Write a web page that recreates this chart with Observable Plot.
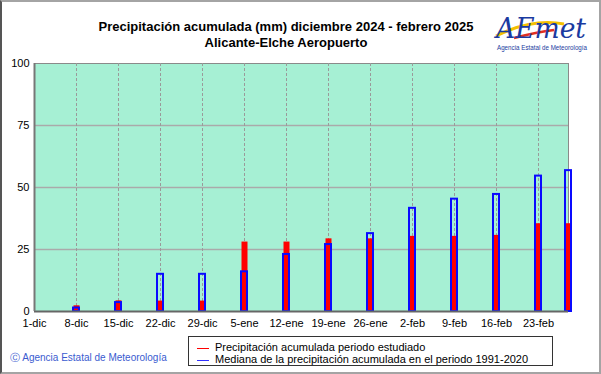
<!DOCTYPE html>
<html>
<head>
<meta charset="utf-8">
<script src="https://cdn.jsdelivr.net/npm/d3@7"></script>
<script src="https://cdn.jsdelivr.net/npm/@observablehq/plot@0.6"></script>
<style>
  body { margin: 0; background: #fff; }
  #wrap { position: relative; width: 601px; height: 374px; overflow: hidden; font-family: "Liberation Sans", Arial, sans-serif; background: #fff; }
  #frame { position: absolute; left: 0; top: 0; width: 597px; height: 370px; border: 2px solid #a4a4a4; border-left: 2px solid #555; pointer-events: none; }
  #title { position: absolute; left: 0; width: 572px; top: 19px; text-align: center; font-weight: bold; font-size: 13px; line-height: 16px; color: #000; }
  #legend { position: absolute; left: 188px; top: 336px; width: 365px; height: 30px; border: 1px solid #333; box-sizing: border-box; font-size: 11px; line-height: 12px; }
  .li { position: absolute; left: 8px; white-space: nowrap; }
  .sw { display: inline-block; width: 12px; height: 0; border-top: 1px solid; vertical-align: middle; margin-right: 6px; }
  #copy { position: absolute; left: 10px; top: 351px; font-size: 10px; color: #3a5bd0; white-space: nowrap; }
  #logo { position: absolute; left: 492px; top: 6px; width: 100px; height: 48px; }
</style>
</head>
<body>
<div id="wrap">
  <div id="chart"></div>
  <div id="title">Precipitación acumulada (mm) diciembre 2024 - febrero 2025<br>Alicante-Elche Aeropuerto</div>
  <svg id="logo" viewBox="0 0 100 48">
    <path d="M4 30 Q 40 12 72 18" stroke="#f5c000" stroke-width="3" fill="none"/>
    <path d="M22 32 Q 45 26 62 24" stroke="#e03020" stroke-width="2.5" fill="none"/>
    <text x="4" y="32" font-family="DejaVu Serif, serif" font-style="italic" font-size="28" textLength="90" lengthAdjust="spacingAndGlyphs" fill="#1a3aa0">AEmet</text>
    <text x="50" y="44" text-anchor="middle" font-size="6.5" textLength="90" lengthAdjust="spacingAndGlyphs" fill="#1a3aa0" font-family="Liberation Sans, Arial">Agencia Estatal de Meteorología</text>
  </svg>
  <div id="legend">
    <div class="li" style="top:4px"><span class="sw" style="border-color:#ff0000"></span>Precipitación acumulada periodo estudiado</div>
    <div class="li" style="top:16px"><span class="sw" style="border-color:#3030ff"></span>Mediana de la precipitación acumulada en el periodo 1991-2020</div>
  </div>
  <div id="copy">Ⓒ Agencia Estatal de Meteorología</div>
  <div id="frame"></div>
</div>
<script>
// Day index counted from 1 December 2024
const tickDays   = [0, 7, 14, 21, 28, 35, 42, 49, 56, 63, 70, 77, 84];
const tickLabels = ["1-dic", "8-dic", "15-dic", "22-dic", "29-dic", "5-ene", "12-ene", "19-ene", "26-ene", "2-feb", "9-feb", "16-feb", "23-feb"];
const barDays    = [7, 14, 21, 28, 35, 42, 49, 56, 63, 70, 77, 84, 89];
const observed   = [2.3, 4.3, 4.2, 4.2, 28.0, 28.0, 29.3, 29.3, 30.3, 30.3, 30.7, 35.4, 35.4];
const median     = [1.4, 3.6, 15.0, 15.0, 16.0, 23.0, 27.0, 31.4, 41.6, 45.3, 47.2, 54.6, 56.8];
const yTicks     = [0, 25, 50, 75, 100];

const bars = barDays.map((d, i) => ({day: d, obs: observed[i], med: median[i]}));
const labelOf = new Map(tickDays.map((d, i) => [d, tickLabels[i]]));

const chart = Plot.plot({
  width: 601,
  height: 374,
  marginLeft: 34,
  marginRight: 33,
  marginTop: 63,
  marginBottom: 63,
  style: {background: "transparent", fontFamily: "Liberation Sans, Arial, sans-serif", fontSize: "11px", color: "#000", overflow: "visible"},
  x: {type: "linear", domain: [0, 89]},
  y: {domain: [0, 100]},
  marks: [
    Plot.frame({fill: "#a6f0d4", stroke: "#8a8a8a"}),
    Plot.gridY(yTicks.slice(1, 4), {stroke: "#aaaaaa", strokeOpacity: 1, strokeWidth: 1.5}),
    Plot.gridX(tickDays.slice(1), {stroke: "#9a9a9a", strokeOpacity: 1, strokeDasharray: "3,2"}),
    Plot.ruleX(bars, {x: "day", y1: 0, y2: "obs", stroke: "#ff0000", strokeWidth: 6}),
    Plot.rect(bars, {x1: d => d.day - 0.5, x2: d => d.day + 0.5, y1: 0, y2: "med", stroke: "#0a0aff", strokeWidth: 2, fill: "none"}),
    Plot.ruleY([0], {stroke: "#666", strokeWidth: 2}),
    Plot.ruleX([0], {stroke: "#777", strokeWidth: 2}),
    Plot.axisX(tickDays, {tickSize: 0, tickPadding: 8, tickFormat: d => labelOf.get(d), label: null, fill: "#000"}),
    Plot.axisY(yTicks, {tickSize: 0, tickPadding: 5, label: null, fill: "#000"})
  ]
});
chart.style.position = "absolute";
chart.style.left = "0px";
chart.style.top = "0px";
document.getElementById("chart").appendChild(chart);
</script>
</body>
</html>
